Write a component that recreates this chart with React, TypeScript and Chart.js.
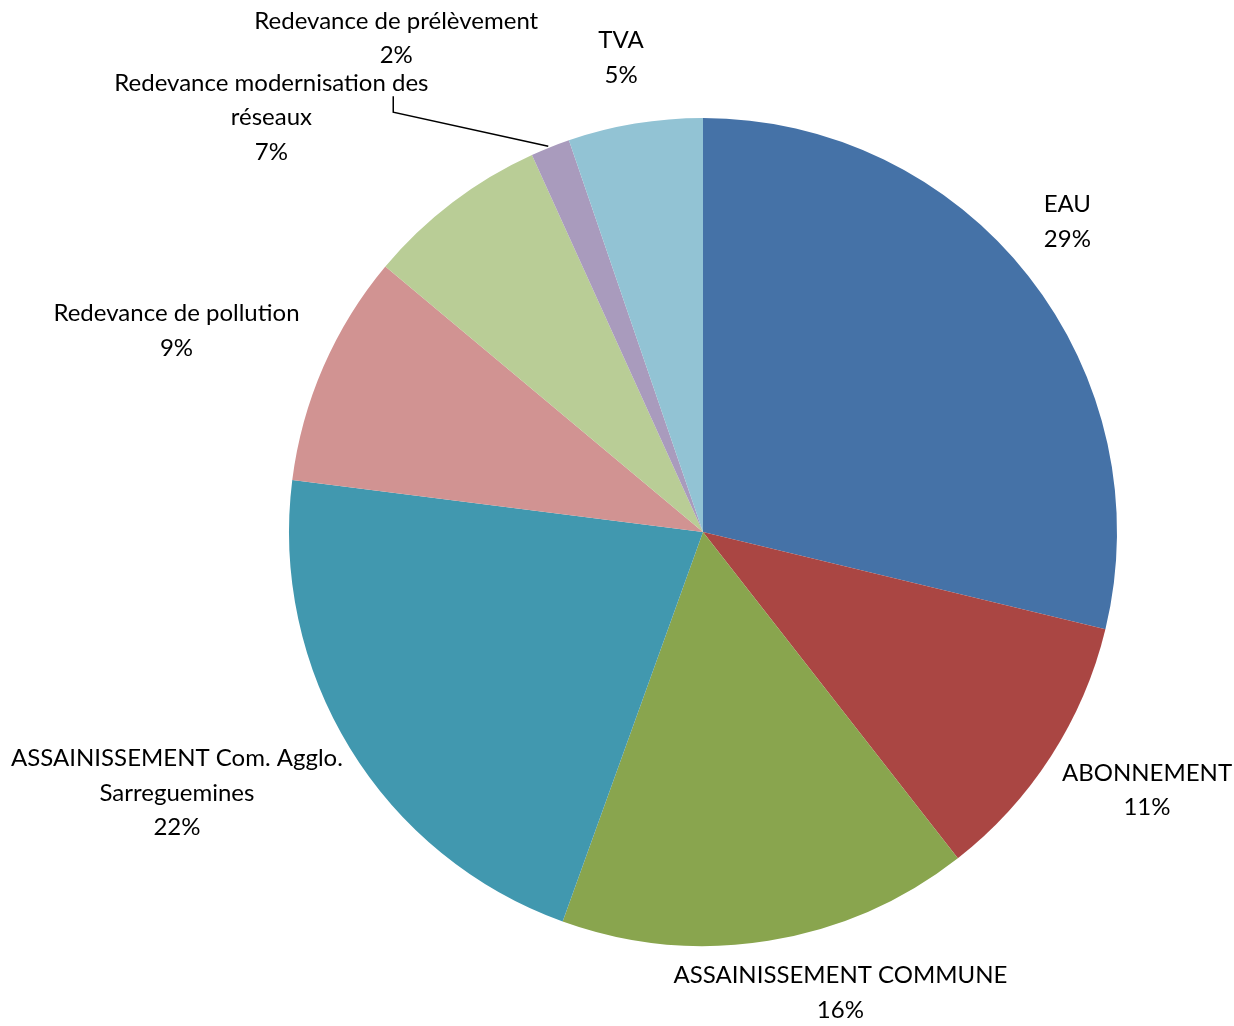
import React, { useEffect, useRef } from "react";
import { Chart, registerables } from "chart.js";

Chart.register(...registerables);

const categories = [
  "EAU",
  "ABONNEMENT",
  "ASSAINISSEMENT COMMUNE",
  "ASSAINISSEMENT Com. Agglo. Sarreguemines",
  "Redevance de pollution",
  "Redevance modernisation des réseaux",
  "Redevance de prélèvement",
  "TVA",
];

const labelLines = [
  ["EAU"],
  ["ABONNEMENT"],
  ["ASSAINISSEMENT COMMUNE"],
  ["ASSAINISSEMENT Com. Agglo.", "Sarreguemines"],
  ["Redevance de pollution"],
  ["Redevance modernisation des", "réseaux"],
  ["Redevance de prélèvement"],
  ["TVA"],
];

// slice sizes as drawn (percent of circle)
const values = [28.78, 10.67, 16.06, 21.5, 9.08, 7.14, 1.53, 5.25];

// percentages as printed on the chart
const percentLabels = ["29%", "11%", "16%", "22%", "9%", "7%", "2%", "5%"];

const colors = [
  "#4572A7",
  "#AA4643",
  "#89A54E",
  "#4198AF",
  "#D19392",
  "#B9CD96",
  "#A99BBD",
  "#92C3D4",
];

// label block centre offset from the slice's outer edge at mid-angle
const labelOffsets = [
  [39, -54],
  [96, 34],
  [72, 52],
  [-173, 45],
  [-147, -36],
  [-181, -85],
  [-154, -109],
  [-14, -66],
];

const FONT = "24px Lato, 'Open Sans', sans-serif";
const LINE_H = 34.5;

const labelPlugin = {
  id: "outsideLabels",
  afterDraw(chart: any) {
    const ctx = chart.ctx;
    const meta = chart.getDatasetMeta(0);
    ctx.save();
    ctx.font = FONT;
    ctx.fillStyle = "#000";
    ctx.textAlign = "center";
    ctx.textBaseline = "middle";
    meta.data.forEach((arc: any, i: number) => {
      const p = arc.getProps(["x", "y", "startAngle", "endAngle", "outerRadius"], true);
      const mid = (p.startAngle + p.endAngle) / 2;
      const ex = p.x + p.outerRadius * Math.cos(mid);
      const ey = p.y + p.outerRadius * Math.sin(mid);
      const cx = ex + labelOffsets[i][0];
      const cy = ey + labelOffsets[i][1];
      const lines = [...labelLines[i], percentLabels[i]];
      const top = cy - ((lines.length - 1) * LINE_H) / 2;
      lines.forEach((t, k) => ctx.fillText(t, cx, top + k * LINE_H));
      if (i === 6) {
        // leader line for the small slice
        ctx.strokeStyle = "#000";
        ctx.lineWidth = 1.5;
        ctx.beginPath();
        ctx.moveTo(ex - 157, ey - 51);
        ctx.lineTo(ex - 157, ey - 35);
        ctx.lineTo(ex - 2, ey - 1);
        ctx.stroke();
      }
    });
    ctx.restore();
  },
};

export default function App() {
  const ref = useRef<HTMLCanvasElement | null>(null);
  useEffect(() => {
    if (!ref.current) return;
    const chart = new Chart(ref.current, {
      type: "pie",
      data: {
        labels: categories,
        datasets: [
          {
            data: values,
            backgroundColor: colors,
            borderWidth: 0,
            hoverOffset: 0,
            offset: 0,
          },
        ],
      },
      options: {
        responsive: false,
        animation: false,
        layout: { padding: { left: 289, right: 117, top: 118, bottom: 80 } },
        plugins: {
          legend: { display: false },
          tooltip: { enabled: false },
        },
        events: [],
      },
      plugins: [labelPlugin],
    });
    return () => chart.destroy();
  }, []);
  return (
    <div style={{ position: "absolute", left: 0, top: 0, width: 1234, height: 1026, background: "#fff" }}>
      <canvas ref={ref} width={1234} height={1026} style={{ display: "block" }} />
    </div>
  );
}
